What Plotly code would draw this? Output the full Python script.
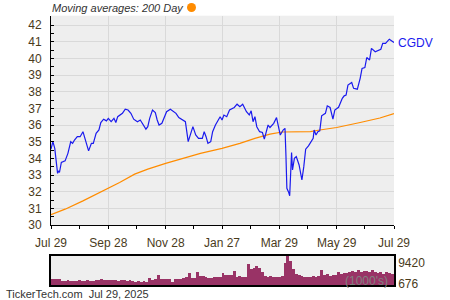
import plotly.graph_objects as go
import pandas as pd

# ---------------- data ----------------
price_dates = [
    "2024-07-29", "2024-07-31", "2024-08-02", "2024-08-05", "2024-08-06", "2024-08-07", "2024-08-09",
    "2024-08-13", "2024-08-16", "2024-08-19", "2024-08-21", "2024-08-23", "2024-08-26", "2024-08-29",
    "2024-09-01", "2024-09-04", "2024-09-07", "2024-09-10", "2024-09-12", "2024-09-15", "2024-09-18",
    "2024-09-20", "2024-09-23", "2024-09-26", "2024-09-28", "2024-10-01", "2024-10-04", "2024-10-06",
    "2024-10-08", "2024-10-13", "2024-10-16", "2024-10-19", "2024-10-22", "2024-10-25", "2024-10-29",
    "2024-11-01", "2024-11-04", "2024-11-07", "2024-11-09", "2024-11-11", "2024-11-14", "2024-11-17",
    "2024-11-19", "2024-11-21", "2024-11-24", "2024-11-27", "2024-11-29", "2024-12-03", "2024-12-06",
    "2024-12-09", "2024-12-12", "2024-12-15", "2024-12-19", "2024-12-22", "2024-12-25", "2024-12-27",
    "2024-12-30", "2025-01-02", "2025-01-06", "2025-01-08", "2025-01-10", "2025-01-12", "2025-01-15",
    "2025-01-17", "2025-01-20", "2025-01-23", "2025-01-25", "2025-01-27", "2025-01-29", "2025-02-01",
    "2025-02-04", "2025-02-09", "2025-02-12", "2025-02-15", "2025-02-18", "2025-02-22", "2025-02-25",
    "2025-02-27", "2025-03-01", "2025-03-03", "2025-03-05", "2025-03-08", "2025-03-11", "2025-03-13",
    "2025-03-15", "2025-03-17", "2025-03-19", "2025-03-21", "2025-03-23", "2025-03-26", "2025-03-28",
    "2025-03-30", "2025-04-02", "2025-04-04", "2025-04-05", "2025-04-06", "2025-04-08", "2025-04-09",
    "2025-04-11", "2025-04-12", "2025-04-14", "2025-04-16", "2025-04-19", "2025-04-22", "2025-04-24",
    "2025-04-26", "2025-04-29", "2025-05-02", "2025-05-04", "2025-05-05", "2025-05-07", "2025-05-09",
    "2025-05-11", "2025-05-13", "2025-05-17", "2025-05-19", "2025-05-22", "2025-05-25", "2025-05-27",
    "2025-05-31", "2025-06-04", "2025-06-06", "2025-06-08", "2025-06-10", "2025-06-12", "2025-06-14",
    "2025-06-16", "2025-06-20", "2025-06-23", "2025-06-25", "2025-06-28", "2025-06-30", "2025-07-03",
    "2025-07-05", "2025-07-09", "2025-07-12", "2025-07-15", "2025-07-17", "2025-07-20", "2025-07-24",
    "2025-07-26", "2025-07-29",
]
price = [
    34.55, 35.0, 34.6, 33.1, 33.25, 33.15, 33.75,
    33.85, 34.3, 35.0, 34.9, 35.1, 35.3, 35.3,
    35.6, 35.0, 34.45, 34.9, 34.9, 35.5, 35.7,
    36.15, 36.35, 36.25, 36.4, 36.2, 36.4, 36.15,
    36.5, 36.7, 36.95, 36.9, 36.7, 36.35, 36.2,
    36.3, 36.0, 35.75, 35.9, 36.4, 36.9, 36.75,
    36.3, 36.0, 36.1, 36.5, 36.8, 36.95, 36.85,
    36.7, 36.45, 36.35, 36.2, 35.0, 35.5, 35.9,
    35.4, 35.2, 35.2, 35.6, 35.3, 34.9, 35.0,
    35.6, 36.0, 36.3, 36.5, 36.3, 36.6, 36.5,
    36.9, 37.05, 37.25, 37.1, 37.25, 36.8, 36.6,
    36.85, 36.2, 36.5, 35.9, 35.6, 35.55, 35.15,
    35.6, 36.0, 35.85, 35.95, 36.1, 36.45, 36.0,
    35.4, 35.7, 35.8, 34.2, 32.2, 31.95, 31.75,
    34.35, 33.3, 34.0, 34.1, 33.6, 32.7, 33.5,
    34.55, 34.75, 35.0, 35.2, 35.7, 35.4, 35.6,
    35.65, 36.55, 36.7, 37.15, 37.05, 36.35, 36.9,
    37.06, 37.6, 37.75, 37.8, 38.4, 38.5, 38.55,
    38.2, 38.15, 38.8, 39.4, 39.45, 40.05, 39.9,
    40.6, 40.4, 40.5, 40.55, 40.9, 40.9, 41.15,
    41.05, 40.95,
]

ma_dates = [
    "2024-07-29", "2024-08-13", "2024-09-01", "2024-09-17", "2024-09-28", "2024-10-10",
    "2024-10-26", "2024-11-09", "2024-11-28", "2024-12-19", "2025-01-04", "2025-01-27",
    "2025-02-15", "2025-03-03", "2025-03-19", "2025-04-01", "2025-04-14", "2025-05-01",
    "2025-05-11", "2025-05-29", "2025-06-23", "2025-07-14", "2025-07-29",
]
ma200 = [
    30.62, 30.95, 31.45, 31.9, 32.2, 32.55,
    33.05, 33.35, 33.7, 34.05, 34.3, 34.6,
    34.9, 35.2, 35.45, 35.58, 35.58, 35.6,
    35.7, 35.85, 36.15, 36.42, 36.68,
]

# volume in thousands, one bar per 3 calendar days starting 2024-07-29
volume = [
    2600, 2500, 2700, 2400, 1900, 1800, 2100, 1700, 1900,
    1800, 2000, 1700, 1900, 2100, 1800, 1900,
    2200, 2000, 2400, 2100, 2300, 2000, 2200,
    2100, 1900, 2300, 2000, 1800, 2100, 1900,
    1500, 1600, 1400, 1700, 1500, 3200, 2300, 2400, 4300,
    2500, 2700, 2400, 2600, 1100, 2700, 2800, 2600, 2900,
    3400, 5000, 2900, 3000, 5700, 3700, 3900, 3500, 3000, 3100,
    3500, 3600, 3400, 5200, 4300, 4100, 4400, 6100, 3500, 3700, 3400,
    3600, 9000, 6800, 7500, 8200, 7200, 5500, 3800,
    3500, 3700, 3400, 3600, 3500, 3800, 9400, 12400, 10500, 7000, 4800,
    4300, 4000, 3500, 3600, 3400, 3700, 3500, 3800, 6500, 4200, 4600, 4000,
    4400, 4100, 5800, 4800, 5200, 5000, 5600, 6200,
    5500, 6600, 5400, 5900, 6200, 5800, 6400, 5600,
    5200, 5800, 4900, 5500, 5000, 4600,
]
vol_dates = pd.date_range("2024-07-29", periods=len(volume), freq="3D")

tick_dates = ["2024-07-29", "2024-09-28", "2024-11-28", "2025-01-27", "2025-03-29", "2025-05-29", "2025-07-29"]
tick_text = ["Jul 29", "Sep 28", "Nov 28", "Jan 27", "Mar 29", "May 29", "Jul 29"]
minor_dates = ["2024-08-28", "2024-10-28", "2024-12-28", "2025-02-26", "2025-04-28", "2025-06-28"]
vol_ticks = [676, 9420]

ticker = "CGDV"

# ---------------- figure ----------------
FONT = "Liberation Sans, Arial, sans-serif"
LABEL = "#4a3b1b"
xdom = [51 / 450, 394 / 450]

fig = go.Figure()
fig.add_trace(go.Scatter(x=ma_dates, y=ma200, mode="lines",
                         line=dict(color="#ff8c00", width=1.2), xaxis="x", yaxis="y",
                         hoverinfo="skip"))
fig.add_trace(go.Scatter(x=price_dates, y=price, mode="lines",
                         line=dict(color="#1a1aee", width=1.2), xaxis="x", yaxis="y"))
fig.add_trace(go.Bar(x=vol_dates, y=volume, marker=dict(color="#993366", line=dict(width=0)),
                     xaxis="x2", yaxis="y2"))

fig.update_layout(
    width=450, height=300,
    margin=dict(l=0, r=0, t=0, b=0, autoexpand=False),
    paper_bgcolor="white", plot_bgcolor="#eeeeee",
    showlegend=False, bargap=0,
    font=dict(family=FONT, size=12, color=LABEL),
    xaxis=dict(domain=xdom, anchor="y", type="date", automargin=False,
               range=["2024-07-29", "2025-07-29"],
               tickvals=tick_dates, ticktext=tick_text,
               showgrid=True, gridcolor="#d9d9d9", gridwidth=1,
               showline=True, linecolor="black", linewidth=1,
               ticks="outside", ticklen=3, tickcolor="black",
               ticklabelstandoff=4,
               minor=dict(tickvals=minor_dates, ticks="outside", ticklen=3,
                          tickcolor="black", showgrid=False),
               tickfont=dict(size=12, color=LABEL), zeroline=False),
    yaxis=dict(domain=[0.25, 0.9477], anchor="x", automargin=False,
               range=[30, 42.56], tick0=30, dtick=1,
               showgrid=True, gridcolor="#d9d9d9", gridwidth=1,
               showline=True, linecolor="black", linewidth=1,
               ticks="inside", ticklen=3, tickcolor="black",
               ticklabelstandoff=6,
               minor=dict(dtick=0.5, ticks="inside", ticklen=3,
                          tickcolor="black", showgrid=False),
               tickfont=dict(size=12, color=LABEL), zeroline=False),
    xaxis2=dict(domain=xdom, anchor="y2", type="date", automargin=False,
                range=["2024-07-29", "2025-07-29"],
                showticklabels=False, showgrid=False, ticks="",
                showline=True, mirror=True, linecolor="black", linewidth=1.5,
                zeroline=False),
    yaxis2=dict(domain=[0.05, 0.1467], anchor="x2", side="right", automargin=False,
                range=[0, 12500], tickvals=vol_ticks,
                ticktext=[str(v) for v in vol_ticks],
                showgrid=False, ticks="",
                showline=True, mirror=True, linecolor="black", linewidth=1.5,
                tickfont=dict(size=12, color=LABEL), zeroline=False),
    annotations=[
        dict(x=price_dates[-1], y=price[-1], xref="x", yref="y", text=ticker,
             xanchor="left", yanchor="middle", xshift=2, showarrow=False,
             font=dict(size=12, color="#1a1aee")),
        dict(x=390 / 450, y=(300 - 281) / 300, xref="paper", yref="paper",
             text="(1000's)", xanchor="right", yanchor="middle", showarrow=False,
             font=dict(size=12, color="#808080")),
        dict(x=50 / 450, y=(300 - 8) / 300, xref="paper", yref="paper",
             text="<i>Moving averages: 200 Day</i>", xanchor="left", yanchor="middle",
             showarrow=False, font=dict(size=11, color="#333333")),
        dict(x=4 / 450, y=(300 - 294) / 300, xref="paper", yref="paper",
             text="TickerTech.com&nbsp; Jul 29, 2025", xanchor="left", yanchor="middle",
             showarrow=False, font=dict(size=11, color="#333333")),
    ],
    shapes=[
        dict(type="circle", xref="paper", yref="paper",
             x0=187 / 450, x1=196 / 450, y0=(300 - 12) / 300, y1=(300 - 3) / 300,
             fillcolor="#ff8c00", line=dict(width=0)),
    ],
)

fig.write_html("out.html")
